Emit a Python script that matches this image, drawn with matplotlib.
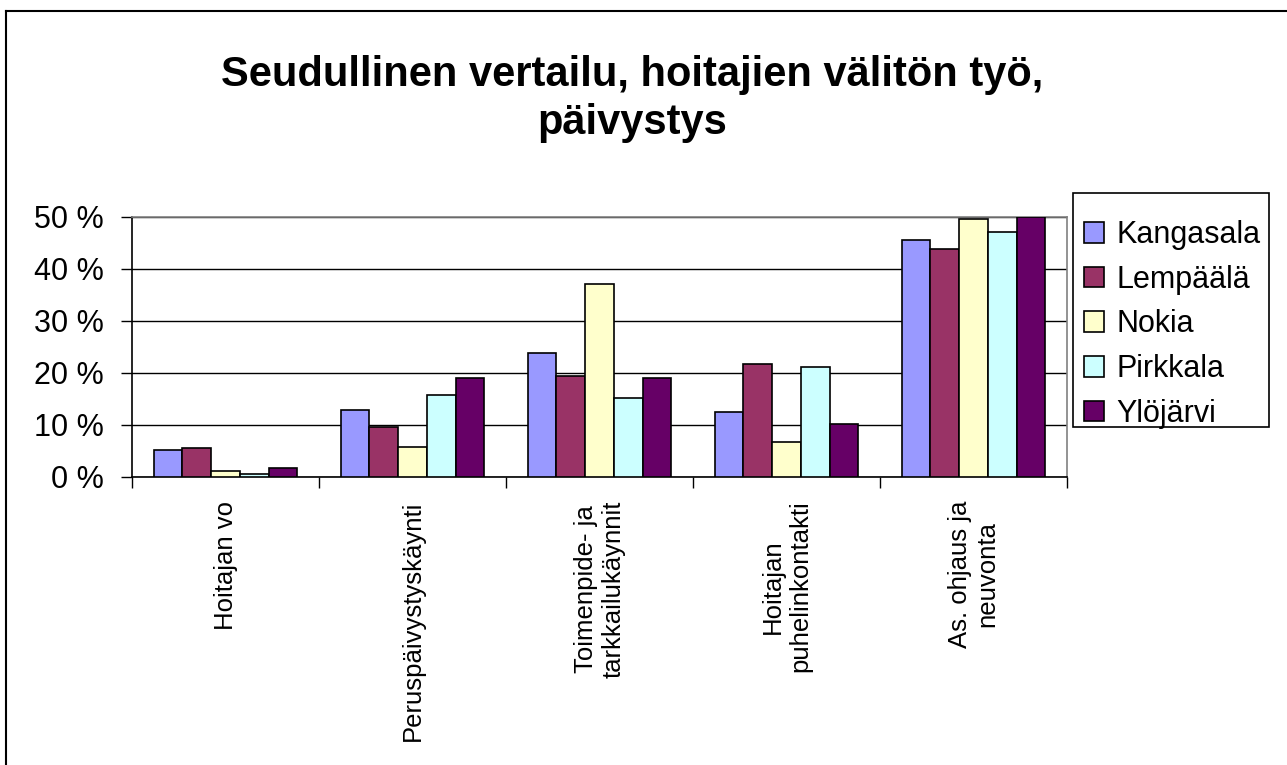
import matplotlib
matplotlib.use("Agg")
import matplotlib.pyplot as plt
import numpy as np
from matplotlib.lines import Line2D
from matplotlib.patches import Rectangle

categories = ["Hoitajan vo", "Peruspäivystyskäynti", "Toimenpide- ja\ntarkkailukäynnit",
              "Hoitajan\npuhelinkontakti", "As. ohjaus ja\nneuvonta"]
series_names = ["Kangasala", "Lempäälä", "Nokia", "Pirkkala", "Ylöjärvi"]
kangasala = [5.1, 12.8, 23.8, 12.5, 45.6]
lempaala = [5.5, 9.7, 19.5, 21.8, 43.8]
nokia = [1.1, 5.8, 37.1, 6.7, 49.6]
pirkkala = [0.6, 15.7, 15.2, 21.1, 47.2]
ylojarvi = [1.7, 19.1, 19.1, 10.1, 50.0]
series_values = [kangasala, lempaala, nokia, pirkkala, ylojarvi]
colors = ["#9999FF", "#993366", "#FFFFCC", "#CCFFFF", "#660066"]
yticks = [0, 10, 20, 30, 40, 50]
ytick_labels = ["0 %", "10 %", "20 %", "30 %", "40 %", "50 %"]
title_lines = ["Seudullinen vertailu, hoitajien välitön työ,", "päivystys"]

plt.rcParams['font.family'] = ['Liberation Sans', 'DejaVu Sans']

W, H = 1287, 765
fig = plt.figure(figsize=(W/100, H/100), dpi=100)
ax = fig.add_axes([132/W, 1-477/H, (1067-132)/W, (477-217)/H])

n = len(series_names)
w = 1/6.5
x = np.arange(len(categories)) + 0.5
handles = []
for i, (name, vals, c) in enumerate(zip(series_names, series_values, colors)):
    b = ax.bar(x + (i - (n-1)/2) * w, vals, width=w, color=c, edgecolor="black",
               linewidth=1.2, label=name, zorder=3)
    handles.append(b)

ax.set_xlim(0, len(categories))
ax.set_ylim(0, 50)
ax.set_yticks(yticks)
ax.set_yticklabels(ytick_labels, fontsize=22)
ax.set_xticks(np.arange(len(categories)+1))
ax.set_xticklabels([])
ax.set_xticks(x, minor=True)
ax.set_xticklabels(categories, minor=True, rotation=90, fontsize=18.5,
                   va="top", ha="center", multialignment="center")
ax.tick_params(axis="x", which="minor", length=0, pad=17)
ax.tick_params(axis="x", which="major", length=8, width=1, direction="out")
ax.tick_params(axis="y", length=8, width=1, direction="out", pad=12)
ax.yaxis.grid(True, color="black", linewidth=1, zorder=0)
ax.set_axisbelow(True)
for s in ["top", "right"]:
    ax.spines[s].set_color("#808080")
    ax.spines[s].set_linewidth(1.2)
for s in ["left", "bottom"]:
    ax.spines[s].set_color("black")
    ax.spines[s].set_linewidth(1.2)

fig.text(632/W, 1-86/H, title_lines[0], ha="center", va="baseline",
         fontsize=30, fontweight="bold")
fig.text(632/W, 1-134/H, title_lines[1], ha="center", va="baseline",
         fontsize=30, fontweight="bold")

# legend frame
fig.add_artist(Rectangle((1073/W, 1-427/H), (1269-1073)/W, (427-193)/H,
                         transform=fig.transFigure, facecolor="white",
                         edgecolor="black", linewidth=1.2))
leg = fig.legend(handles=handles, labels=series_names, loc="upper left",
                 bbox_to_anchor=(1084/W, 1-220/H), fontsize=22,
                 frameon=False, handlelength=0.67, handleheight=0.67,
                 handletextpad=0.4, labelspacing=0.48, borderpad=0,
                 borderaxespad=0)

fig.add_artist(Line2D([6/W, 6/W], [0, 1-11/H], transform=fig.transFigure,
                      color="black", linewidth=1.5))
fig.add_artist(Line2D([6/W, 1.0], [1-11/H, 1-11/H], transform=fig.transFigure,
                      color="black", linewidth=1.5))

fig.savefig("out.png", dpi=100)
